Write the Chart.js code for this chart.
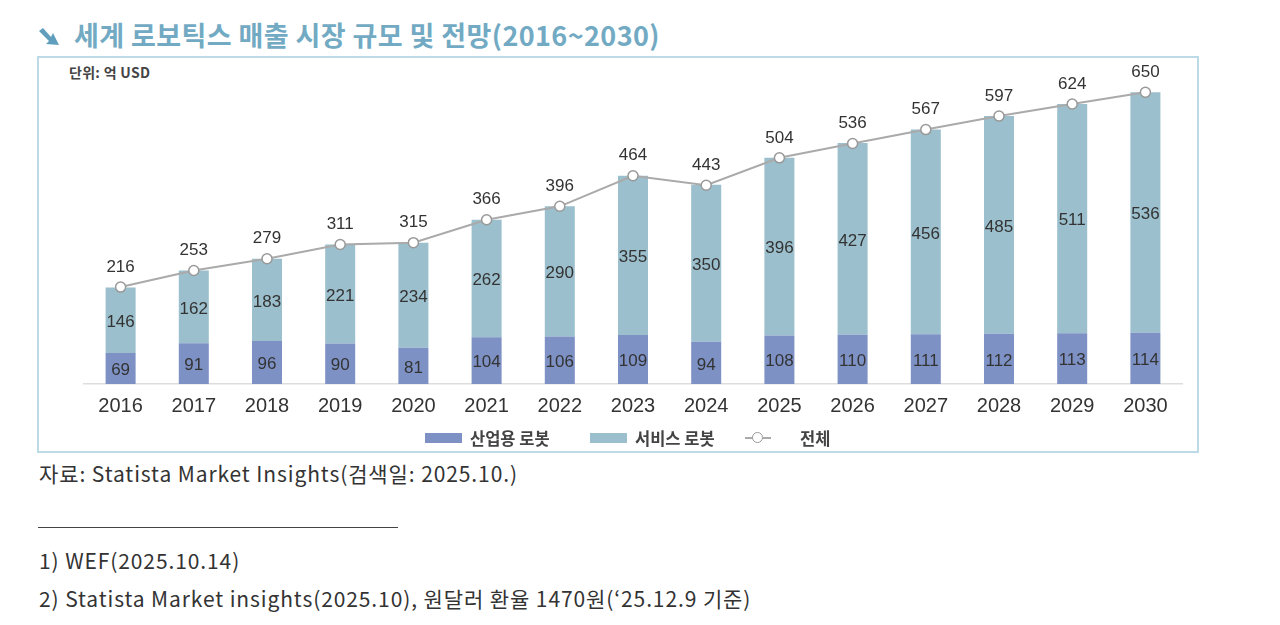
<!DOCTYPE html>
<html>
<head>
<meta charset="utf-8">
<script src="https://cdn.jsdelivr.net/npm/chart.js@4"></script>
<style>
  body { margin: 0; background: #fff; width: 1280px; height: 625px; position: relative; overflow: hidden;
         font-family: "Noto Sans CJK KR", "Noto Sans", sans-serif; color: #333; }
  #title { position: absolute; left: 38px; top: 15px; font-size: 27px; font-weight: bold; color: #72aac3; letter-spacing: 0.4px; white-space: nowrap; display: flex; align-items: center; }
  #title svg { margin-right: 14px; margin-top: 4px; }
  #box { position: absolute; left: 37px; top: 56px; width: 1158px; height: 393px; border: 2px solid #bcdbe6; }
  #unit { position: absolute; left: 30px; top: 4px; font-size: 14px; font-weight: bold; color: #444; letter-spacing: 0.3px; }
  #wrap { position: absolute; left: 0; top: 0; width: 1158px; height: 393px; }
  #legend { position: absolute; top: 369px; left: 0; width: 1158px; height: 22px; font-size: 16.5px; font-weight: bold; color: #444; }
  .li { position: absolute; top: 0; display: flex; align-items: center; height: 22px; white-space: nowrap; }
  .sw { width: 37px; height: 10px; margin-right: 8px; }
  .ln { width: 26px; height: 2px; background: #aaa; position: relative; margin-right: 29px; }
  .ln::after { content: ""; position: absolute; left: 7px; top: -5px; width: 9px; height: 9px; border-radius: 50%; border: 1.5px solid #999; background: #fff; }
  .foot { position: absolute; left: 39px; font-size: 21px; color: #333; white-space: nowrap; letter-spacing: 0.9px; }
  #rule { position: absolute; left: 38px; top: 527px; width: 360px; height: 1px; background: #444; }
</style>
</head>
<body>
<div id="title"><svg width="22" height="18" viewBox="0 0 22 18"><path d="M1 3 L5 0 L13 9 L15 5 L21 17 L8 16 L11 13 Z" fill="#5f9fbd"/></svg>세계 로보틱스 매출 시장 규모 및 전망(2016~2030)</div>
<div id="box">
  <div id="unit">단위: 억 USD</div>
  <div id="wrap"><canvas id="chart"></canvas></div>
  <div id="legend">
    <div class="li" style="left:386px"><div class="sw" style="background:#7d91c5"></div>산업용 로봇</div>
    <div class="li" style="left:551px"><div class="sw" style="background:#9bbfcc"></div>서비스 로봇</div>
    <div class="li" style="left:706px"><div class="ln"></div>전체</div>
  </div>
</div>
<div class="foot" style="top:458px">자료: Statista Market Insights(검색일: 2025.10.)</div>
<div id="rule"></div>
<div class="foot" style="top:545px">1) WEF(2025.10.14)</div>
<div class="foot" style="top:583px">2) Statista Market insights(2025.10), 원달러 환율 1470원(‘25.12.9 기준)</div>

<script>
const years = ["2016", "2017", "2018", "2019", "2020", "2021", "2022", "2023", "2024", "2025", "2026", "2027", "2028", "2029", "2030"];
const industrial = [69, 91, 96, 90, 81, 104, 106, 109, 94, 108, 110, 111, 112, 113, 114];
const service = [146, 162, 183, 221, 234, 262, 290, 355, 350, 396, 427, 456, 485, 511, 536];
const total = [216, 253, 279, 311, 315, 366, 396, 464, 443, 504, 536, 567, 597, 624, 650];

// draws the value labels (no datalabels plugin offline)
const valueLabels = {
  id: "valueLabels",
  afterDatasetsDraw(chart) {
    const ctx = chart.ctx;
    ctx.save();
    ctx.font = "17px 'Liberation Sans', Arial, sans-serif";
    ctx.fillStyle = "#333";
    ctx.textAlign = "center";
    ctx.textBaseline = "middle";
    chart.data.datasets.forEach((ds, i) => {
      const meta = chart.getDatasetMeta(i);
      meta.data.forEach((el, j) => {
        const v = ds.data[j];
        if (ds.type === "line") {
          ctx.fillText(v, el.x, el.y - 20);
        } else {
          const mid = (el.y + el.base) / 2;
          ctx.fillText(v, el.x, mid + 2);
        }
      });
    });
    ctx.restore();
  }
};

new Chart(document.getElementById("chart"), {
  data: {
    labels: years,
    datasets: [
      {
        type: "line",
        label: "전체",
        data: total,
        borderColor: "#aaa",
        borderWidth: 2,
        pointRadius: 5,
        pointBackgroundColor: "#fff",
        pointBorderColor: "#999",
        pointBorderWidth: 1.5,
        tension: 0,
        order: 0,
      },
      {
        type: "bar",
        label: "산업용 로봇",
        data: industrial,
        backgroundColor: "#7d91c5",
        stack: "s",
        barPercentage: 0.82,
        categoryPercentage: 0.5,
        order: 1,
      },
      {
        type: "bar",
        label: "서비스 로봇",
        data: service,
        backgroundColor: "#9bbfcc",
        stack: "s",
        barPercentage: 0.82,
        categoryPercentage: 0.5,
        order: 1,
      },
    ],
  },
  options: {
    responsive: true,
    maintainAspectRatio: false,
    animation: false,
    layout: { padding: { left: 45, right: 15, top: 0, bottom: 0 } },
    plugins: { legend: { display: false }, tooltip: { enabled: false } },
    scales: {
      x: {
        stacked: true,
        grid: { display: false },
        border: { display: true, color: "#ddd", width: 1.5 },
        ticks: { color: "#333", font: { size: 20, family: "'Liberation Sans', Arial, sans-serif" }, padding: 2 },
        afterFit: (axis) => { axis.height = 67; },
      },
      y: {
        stacked: true,
        display: false,
        min: 0,
        max: 712,
      },
    },
  },
  plugins: [valueLabels],
});
</script>
</body>
</html>
